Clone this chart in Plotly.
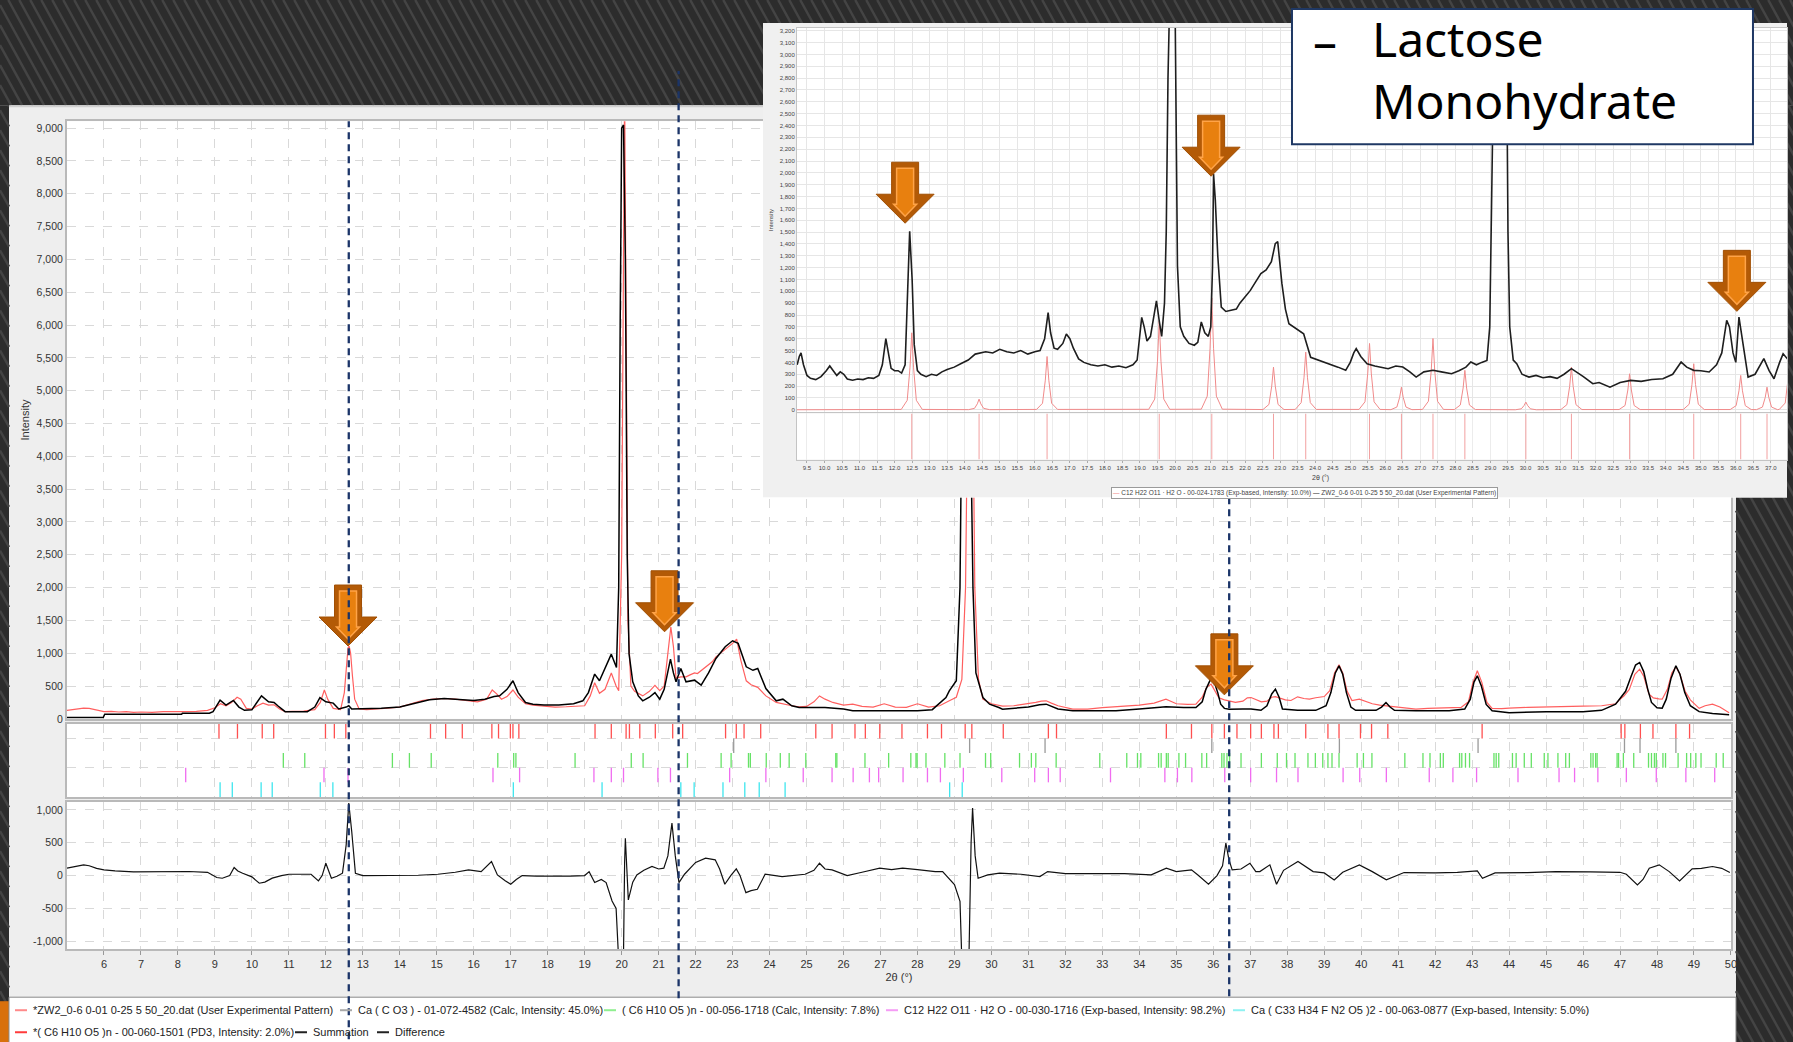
import plotly.graph_objects as go

W, H = 1793, 1042
# the photographed page comes out a few pixels larger than the figure, so layout
# positions are laid out against that effective page size
EW, EH = 1799.0, 1049.3
FONT = "Liberation Sans, Arial, sans-serif"


def px(x):
    return x * EW / (W * W)


def py(y):
    return 1 - y * EH / (H * H)


# ---------------- main refinement: 2θ (deg) vs intensity ----------------
exp_x = [5.00, 5.15, 5.30, 5.45, 5.60, 5.75, 5.90, 6.00, 6.20, 6.40, 6.60, 6.80, 7.00, 7.30, 7.60,
         7.90, 8.20, 8.50, 8.80, 9.00, 9.15, 9.30, 9.45, 9.60, 9.70, 9.85, 10.00, 10.15, 10.30,
         10.45, 10.60, 10.75, 10.90, 11.10, 11.40, 11.70, 11.85, 11.96, 12.05, 12.20, 12.40, 12.50,
         12.55, 12.60, 12.63, 12.67, 12.72, 12.78, 12.90, 13.10, 13.40, 13.70, 14.00, 14.30, 14.60,
         14.90, 15.20, 15.50, 15.80, 16.10, 16.35, 16.50, 16.62, 16.75, 16.90, 17.06, 17.20, 17.40,
         17.60, 17.90, 18.20, 18.50, 18.80, 19.00, 19.15, 19.27, 19.40, 19.55, 19.72, 19.85, 19.92,
         20.00, 20.05, 20.08, 20.12, 20.17, 20.25, 20.35, 20.57, 20.75, 20.90, 21.03, 21.15, 21.25,
         21.33, 21.40, 21.47, 21.60, 21.74, 21.85, 21.97, 22.05, 22.15, 22.25, 22.35, 22.45, 22.55,
         22.65, 22.80, 22.90, 23.00, 23.11, 23.22, 23.37, 23.50, 23.68, 23.90, 24.18, 24.36, 24.60,
         24.80, 25.00, 25.20, 25.35, 25.50, 25.71, 26.00, 26.25, 26.50, 26.80, 27.10, 27.40, 27.70,
         28.00, 28.30, 28.60, 28.86, 29.05, 29.20, 29.30, 29.38, 29.42, 29.48, 29.55, 29.65, 29.77,
         30.00, 30.30, 30.60, 30.90, 31.20, 31.35, 31.48, 31.62, 31.80, 32.20, 32.60, 33.00, 33.37,
         33.70, 34.00, 34.40, 34.58, 34.72, 34.88, 35.00, 35.30, 35.53, 35.70, 35.82, 35.94, 36.05,
         36.15, 36.30, 36.43, 36.60, 36.80, 36.92, 37.02, 37.15, 37.30, 37.45, 37.58, 37.68, 37.80,
         37.95, 38.10, 38.28, 38.45, 38.60, 38.77, 39.00, 39.15, 39.28, 39.40, 39.50, 39.62, 39.75,
         39.95, 40.10, 40.30, 40.50, 40.67, 40.90, 41.20, 41.48, 41.80, 42.10, 42.38, 42.70, 42.90,
         43.02, 43.14, 43.26, 43.40, 43.54, 43.80, 44.00, 44.50, 45.00, 45.50, 46.00, 46.50, 46.75,
         46.88, 47.00, 47.11, 47.25, 47.40, 47.53, 47.64, 47.78, 47.90, 48.05, 48.14, 48.28, 48.40,
         48.51, 48.62, 48.76, 48.90, 49.14, 49.30, 49.50, 49.70, 49.95]
exp_y = [130, 140, 150, 165, 160, 140, 125, 110, 115, 105, 110, 100, 105, 100, 110,
         105, 110, 115, 130, 170, 230, 200, 250, 330, 300, 160, 150, 200, 240,
         210, 215, 150, 110, 115, 120, 140, 250, 440, 300, 160, 140, 400,
         800, 1080, 1110, 1000, 650, 300, 150, 140, 150, 170, 180, 230, 280,
         300, 310, 300, 280, 260, 300, 440, 380, 300, 340, 440, 330, 230,
         210, 190, 180, 185, 190, 200, 350, 550, 390, 450, 700, 500, 430,
         2500, 7000, 9600, 6000, 1500, 500, 420, 350, 420, 510, 430, 500, 1000,
         1400, 1100, 620, 640, 640, 670, 700, 690, 735, 780, 830, 870, 945,
         990, 1050, 1100, 1150, 1215, 900, 580, 520, 480, 350, 250, 225, 200,
         185, 190, 260, 350, 300, 250, 210, 225, 190, 180, 230, 180, 175,
         230, 180, 200, 275, 330, 600, 2000, 6000, 8000, 6000, 2000, 600, 300,
         230, 195, 200, 220, 250, 270, 275, 240, 200, 150, 150, 170, 185,
         200, 210, 240, 280, 300, 260, 230, 220, 225, 330, 480, 530, 430,
         320, 290, 275, 250, 270, 320, 325, 300, 260, 270, 330, 340, 320,
         290, 280, 336, 310, 300, 322, 340, 430, 700, 824, 700, 420, 280,
         300, 270, 230, 210, 200, 180, 165, 150, 160, 165, 160, 175, 260,
         550, 732, 560, 250, 160, 155, 165, 175, 185, 190, 195, 200, 215,
         230, 300, 351, 450, 680, 757, 650, 380, 320, 305, 300, 450, 700,
         793, 680, 420, 290, 160, 200, 224, 180, 92]

sum_x = [5.00, 5.98, 6.02, 8.10, 8.12, 8.85, 8.95, 9.14, 9.30, 9.50, 9.65, 9.80, 10.00, 10.26,
         10.45, 10.60, 10.70, 10.90, 11.50, 11.70, 11.84, 12.00, 12.20, 12.35, 12.55, 12.62, 12.70,
         13.00, 13.50, 14.00, 14.40, 14.80, 15.20, 15.60, 16.00, 16.30, 16.55, 16.70, 16.90, 17.06,
         17.20, 17.40, 17.60, 17.90, 18.30, 18.70, 18.95, 19.10, 19.27, 19.40, 19.60, 19.72, 19.86,
         19.92, 19.96, 20.00, 20.05, 20.10, 20.15, 20.20, 20.30, 20.45, 20.57, 20.75, 20.90, 21.03,
         21.15, 21.25, 21.32, 21.40, 21.47, 21.60, 21.74, 21.97, 22.15, 22.35, 22.55, 22.80, 23.00,
         23.15, 23.37, 23.55, 23.68, 23.90, 24.18, 24.36, 24.60, 24.80, 25.50, 26.00, 26.25, 27.00,
         28.00, 28.40, 28.77, 28.86, 29.05, 29.15, 29.22, 29.30, 29.40, 29.50, 29.58, 29.77, 29.95,
         30.20, 30.30, 31.00, 31.30, 31.48, 31.62, 31.80, 32.20, 33.00, 33.37, 34.00, 34.72, 35.20,
         35.53, 35.70, 35.80, 35.94, 36.05, 36.12, 36.20, 36.30, 36.43, 36.80, 37.02, 37.29, 37.45,
         37.58, 37.68, 37.78, 37.87, 38.28, 38.77, 39.05, 39.18, 39.30, 39.40, 39.50, 39.60, 39.72,
         39.85, 40.40, 40.55, 40.67, 40.78, 40.90, 41.48, 42.38, 42.80, 42.95, 43.05, 43.14, 43.25,
         43.38, 43.54, 44.00, 45.00, 46.00, 46.50, 46.88, 47.05, 47.15, 47.30, 47.42, 47.53, 47.64,
         47.75, 47.85, 48.00, 48.14, 48.25, 48.38, 48.51, 48.62, 48.75, 48.90, 49.14, 49.50, 49.95]
sum_y = [20, 20, 70, 70, 85, 85, 110, 285, 210, 280, 180, 130, 140, 350,
         260, 250, 200, 110, 110, 180, 325, 260, 240, 150, 180, 200, 150,
         150, 160, 180, 230, 290, 310, 300, 280, 300, 340, 351, 450, 580,
         400, 250, 224, 210, 210, 230, 275, 400, 682, 580, 850, 986, 783,
         2000, 6000, 9000, 9050, 7000, 2500, 990, 564, 350, 275, 330, 400, 300,
         450, 750, 910, 700, 564, 767, 564, 590, 513, 700, 920, 1100, 1190,
         1150, 793, 740, 767, 461, 275, 300, 200, 173, 173, 150, 122, 122,
         122, 140, 325, 427, 580, 2000, 6000, 7500, 6000, 2000, 700, 325, 224,
         173, 148, 180, 215, 224, 190, 150, 122, 122, 122, 150, 183, 175,
         173, 260, 450, 620, 520, 400, 224, 160, 148, 150, 150, 130, 200,
         380, 453, 330, 150, 130, 130, 200, 400, 700, 808, 680, 400, 180,
         130, 130, 180, 249, 180, 130, 122, 122, 150, 300, 560, 656, 500,
         220, 122, 92, 110, 110, 130, 224, 340, 420, 650, 820, 859, 720,
         450, 250, 170, 163, 300, 620, 808, 680, 400, 200, 110, 80, 61]

diff_x = [5.00, 5.25, 5.45, 5.60, 5.80, 6.00, 6.30, 6.80, 7.30, 7.80, 8.30, 8.80, 9.05, 9.20, 9.40,
          9.52, 9.62, 9.75, 10.00, 10.20, 10.35, 10.55, 10.80, 11.00, 11.30, 11.60, 11.80, 11.90,
          12.00, 12.08, 12.15, 12.30, 12.45, 12.55, 12.62, 12.70, 12.80, 13.00, 13.50, 14.00, 14.50,
          15.03, 15.50, 15.86, 16.20, 16.48, 16.64, 16.85, 17.00, 17.15, 17.31, 17.70, 18.14, 18.60,
          19.00, 19.12, 19.27, 19.45, 19.58, 19.74, 19.85, 19.92, 20.00, 20.05, 20.08, 20.10, 20.14,
          20.18, 20.30, 20.41, 20.60, 20.82, 21.00, 21.14, 21.25, 21.36, 21.45, 21.55, 21.70, 21.86,
          22.00, 22.27, 22.53, 22.65, 22.79, 22.95, 23.10, 23.20, 23.36, 23.50, 23.67, 23.88, 24.34,
          24.96, 25.20, 25.35, 25.50, 25.69, 26.10, 26.50, 26.98, 27.30, 27.60, 28.00, 28.48, 28.68,
          29.00, 29.15, 29.20, 29.39, 29.45, 29.49, 29.56, 29.64, 29.90, 30.22, 30.80, 31.31, 31.52,
          32.00, 32.95, 33.60, 34.32, 34.73, 35.00, 35.41, 35.60, 35.87, 36.10, 36.25, 36.34, 36.42,
          36.51, 36.75, 36.99, 37.15, 37.26, 37.53, 37.71, 37.90, 38.29, 38.70, 39.00, 39.27, 39.50,
          39.95, 40.30, 40.68, 41.16, 42.00, 42.60, 43.14, 43.28, 43.62, 44.50, 45.26, 46.20, 47.00,
          47.17, 47.47, 47.62, 47.79, 48.06, 48.33, 48.61, 48.80, 48.95, 49.20, 49.50, 49.75, 49.97]
diff_y = [112, 140, 163, 150, 110, 87, 70, 55, 60, 55, 62, 50, -30, -41, 0,
          122, 70, 36, -20, -117, -100, -40, 0, 20, 25, 20, -82, 0,
          188, 60, -41, -10, 36, 468, 1104, 671, 36, 0, 0, 0, 5,
          20, 50, 87, 60, 214, 10, -80, -132, -60, 0, -10, -15, -10,
          0, 60, -107, -60, -107, -387, -500, -1300, -1300, -1200, 200, 570, 100,
          -372, -100, 10, 80, 138, 100, 112, 300, 799, 300, -107, 20, 112,
          200, 266, 240, 100, -132, 0, 102, 0, -260, -230, -209, 20, -15,
          20, 80, 188, 100, 87, 0, 50, 112, 90, 112, 90, 60, 60,
          -138, -392, -1300, -1300, 500, 1028, 300, -41, 10, 36, 20, -15, 60,
          30, 36, 30, 10, 112, 60, 87, 0, -132, 0, 150, 494, 250,
          87, 100, 188, 60, 60, 163, -132, 80, 214, 60, 40, -66, 50,
          163, 60, -66, 46, 40, 50, 71, -41, 40, 45, 60, 55, 50,
          20, -143, -60, 112, 163, 60, -82, 20, 102, 110, 138, 110, 46]

# ---------------- reference phase line positions (2θ) ----------------
pd3_pos = [9.11, 9.61, 10.28, 10.59, 11.99, 12.23, 12.54, 14.83, 15.24, 15.69, 16.49, 16.67,
           16.99, 17.06, 17.22, 19.28, 19.72, 20.12, 20.21, 20.49, 20.91, 21.38, 21.65, 22.81,
           23.10, 23.31, 23.76, 25.25, 25.69, 26.31, 26.59, 26.98, 27.58, 28.27, 28.65, 29.29,
           29.47, 30.32, 31.54, 31.76, 34.73, 35.41, 35.96, 36.30, 36.64, 37.01, 37.30, 37.64,
           37.76, 38.50, 39.10, 39.40, 39.98, 40.28, 40.72, 43.27, 47.03, 47.13, 47.55, 47.89,
           48.51, 48.88]
calcite_pos = [23.03, 29.41, 31.45, 35.96, 39.41, 43.16, 47.12, 47.54, 48.51]
cellulose_pos = [10.85, 11.43, 13.80, 14.26, 14.85, 16.65, 17.08, 17.14, 18.74, 20.26, 20.58,
                 21.78, 22.69, 22.96, 23.43, 23.48, 23.91, 24.29, 24.53, 24.98, 25.79, 25.82,
                 26.58, 27.22, 27.82, 27.96, 27.99, 28.23, 28.74, 29.15, 29.84, 29.98, 30.76,
                 31.08, 31.20, 31.75, 32.93, 33.66, 33.95, 34.04, 34.52, 34.59, 34.73, 34.78,
                 35.07, 35.25, 35.69, 35.82, 36.23, 36.29, 36.37, 36.44, 36.75, 37.30, 37.73,
                 37.98, 38.21, 38.56, 38.76, 38.96, 39.10, 39.21, 39.40, 39.89, 40.06, 40.29,
                 41.18, 41.67, 41.86, 42.14, 42.22, 42.66, 42.72, 42.82, 42.93, 43.59, 43.65,
                 43.72, 44.09, 44.19, 44.41, 44.60, 44.95, 45.05, 45.32, 45.53, 45.63, 46.21,
                 46.27, 46.34, 46.38, 46.92, 46.96, 47.09, 47.37, 47.77, 47.85, 47.93, 47.98,
                 48.16, 48.23, 48.57, 48.80, 48.91, 49.05, 49.19, 49.60, 49.79]
lactose_pos = [8.21, 11.95, 12.60, 16.52, 17.24, 19.25, 19.72, 20.05, 20.98, 21.32, 22.92,
               23.90, 24.91, 25.69, 26.26, 26.70, 26.95, 27.61, 28.27, 28.62, 29.24, 30.28,
               31.17, 31.54, 31.86, 33.22, 34.69, 35.03, 35.42, 36.31, 37.01, 37.71, 38.29,
               39.51, 39.96, 40.68, 41.84, 42.48, 43.12, 44.24, 45.35, 45.77, 46.40, 47.17,
               47.98, 48.78, 49.56]
atorva_pos = [9.14, 9.47, 10.25, 10.55, 11.85, 12.19, 17.07, 19.47, 21.60, 21.96, 22.74, 23.33,
              23.72, 24.42, 28.87, 29.21]

# ---------------- inset: lactose monohydrate reference (00-024-1783) ----------------
ins_exp_x = [9.22, 9.28, 9.33, 9.40, 9.50, 9.60, 9.75, 9.90, 10.05, 10.15, 10.25, 10.35, 10.45,
             10.55, 10.65, 10.80, 10.95, 11.10, 11.25, 11.40, 11.55, 11.65, 11.75, 11.82, 11.90,
             12.00, 12.10, 12.20, 12.30, 12.36, 12.43, 12.50, 12.56, 12.65, 12.75, 12.90, 13.05,
             13.20, 13.35, 13.50, 13.70, 13.90, 14.10, 14.30, 14.45, 14.60, 14.80, 15.00, 15.20,
             15.40, 15.60, 15.80, 16.00, 16.15, 16.28, 16.38, 16.45, 16.55, 16.65, 16.80, 16.90,
             17.00, 17.10, 17.25, 17.40, 17.60, 17.80, 18.00, 18.20, 18.40, 18.60, 18.80, 18.92,
             19.00, 19.05, 19.12, 19.20, 19.30, 19.40, 19.47, 19.55, 19.62, 19.70, 19.75, 19.80,
             19.85, 20.00, 20.03, 20.07, 20.15, 20.25, 20.40, 20.55, 20.65, 20.75, 20.85, 20.95,
             21.02, 21.07, 21.10, 21.15, 21.22, 21.27, 21.32, 21.45, 21.60, 21.75, 21.85, 22.00,
             22.15, 22.30, 22.45, 22.60, 22.75, 22.86, 22.93, 23.05, 23.15, 23.25, 23.45, 23.67,
             23.87, 24.10, 24.40, 24.65, 24.87, 25.00, 25.10, 25.17, 25.30, 25.48, 25.70, 26.08,
             26.30, 26.50, 26.70, 26.88, 27.10, 27.36, 27.60, 27.89, 28.10, 28.30, 28.44, 28.60,
             28.75, 28.90, 28.98, 29.05, 29.12, 29.45, 29.50, 29.55, 29.65, 29.75, 29.90, 30.10,
             30.30, 30.50, 30.70, 30.90, 31.10, 31.31, 31.45, 31.65, 31.92, 32.10, 32.41, 32.70,
             33.00, 33.30, 33.60, 33.92, 34.20, 34.44, 34.60, 34.80, 35.00, 35.24, 35.45, 35.60,
             35.74, 35.82, 35.92, 36.00, 36.09, 36.18, 36.35, 36.55, 36.70, 36.80, 36.95, 37.09,
             37.25, 37.35, 37.50, 37.63]
ins_exp_y = [380, 450, 480, 380, 290, 265, 255, 280, 330, 370, 330, 290, 320,
             300, 260, 250, 260, 255, 270, 265, 290, 380, 600, 480, 350,
             330, 330, 310, 380, 900, 1507, 1100, 550, 330, 300, 280, 300,
             290, 320, 340, 360, 390, 420, 470, 480, 490, 480, 510, 490,
             480, 500, 470, 490, 500, 600, 820, 650, 520, 510, 560, 640,
             600, 520, 430, 400, 380, 370, 380, 360, 370, 355, 380, 420,
             650, 780, 700, 580, 620, 800, 920, 750, 620, 900, 1500, 2800,
             3500, 3500, 2200, 1215, 700, 620, 560, 545, 570, 741, 650, 620,
             700, 1200, 1990, 1770, 1300, 1065, 867, 830, 839, 850, 900, 950,
             1008, 1080, 1150, 1180, 1250, 1403, 1420, 1065, 850, 727, 690, 642,
             443, 420, 390, 360, 333, 400, 480, 516, 450, 389, 370, 347,
             370, 361, 320, 276, 320, 333, 320, 304, 330, 360, 403, 380,
             400, 417, 700, 2000, 3500, 3500, 1500, 700, 420, 389, 300, 276,
             290, 270, 280, 265, 300, 347, 320, 280, 220, 230, 191, 230,
             248, 240, 255, 262, 300, 403, 360, 333, 330, 319, 380, 480,
             755, 700, 480, 400, 783, 600, 276, 300, 380, 432, 330, 262,
             400, 473, 420, 360]

ins_ref_x = [9.215, 12.19, 12.36, 12.44, 12.49, 12.54, 12.62, 12.79, 14.11, 14.28, 14.36, 14.41,
             14.46, 14.54, 14.71, 16.05, 16.22, 16.30, 16.35, 16.40, 16.48, 16.65, 19.25, 19.42,
             19.50, 19.55, 19.60, 19.68, 19.85, 20.75, 20.92, 21.00, 21.05, 21.10, 21.18, 21.35,
             22.51, 22.68, 22.76, 22.81, 22.86, 22.94, 23.11, 23.43, 23.60, 23.68, 23.73, 23.78,
             23.86, 24.03, 25.25, 25.42, 25.50, 25.55, 25.60, 25.68, 25.85, 26.16, 26.33, 26.41,
             26.46, 26.51, 26.59, 26.76, 27.06, 27.23, 27.31, 27.36, 27.41, 27.49, 27.66, 27.97,
             28.14, 28.22, 28.27, 28.32, 28.40, 28.57, 29.71, 29.88, 29.96, 30.01, 30.06, 30.14,
             30.31, 31.01, 31.18, 31.26, 31.31, 31.36, 31.44, 31.61, 32.67, 32.84, 32.92, 32.97,
             33.02, 33.10, 33.27, 34.50, 34.67, 34.75, 34.80, 34.85, 34.93, 35.10, 35.84, 36.01,
             36.09, 36.14, 36.19, 36.27, 36.44, 36.59, 36.76, 36.84, 36.89, 36.94, 37.02, 37.19,
             37.24, 37.41, 37.49, 37.54, 37.59, 37.63]
ins_ref_y = [0, 3, 80, 360, 650, 360, 80, 3, 1, 12, 50, 90,
             50, 12, 1, 3, 55, 250, 450, 250, 55, 3, 4, 90,
             410, 750, 410, 90, 4, 5, 115, 520, 945, 520, 115, 5,
             2, 45, 200, 360, 200, 45, 2, 3, 60, 270, 487, 270,
             60, 3, 3, 67, 310, 560, 310, 67, 3, 1, 23, 105,
             191, 105, 23, 1, 3, 72, 330, 602, 330, 72, 3, 2,
             40, 183, 333, 183, 40, 2, 0, 8, 36, 65, 36, 8,
             0, 2, 43, 198, 360, 198, 43, 2, 2, 36, 167, 304,
             167, 36, 2, 2, 47, 214, 389, 214, 47, 2, 2, 35,
             160, 290, 160, 35, 2, 1, 23, 105, 191, 105, 23, 1,
             3, 57, 260, 473, 260, 160]
ins_stick_pos = [12.49, 14.41, 16.35, 19.55, 21.05, 22.81, 23.73, 25.55, 26.46, 27.36, 28.27,
                 30.01, 31.31, 32.97, 34.80, 36.14, 36.89, 37.54]

# highlighted reflections (2θ, intensity at the arrow tip)
main_marks = [(12.60, 1110), (21.16, 1327), (36.30, 366)]
inset_marks = [(12.30, 1575), (21.03, 1972), (36.03, 831)]
guide_lines = [12.62, 21.54, 36.43]

x_tickvals = list(range(6, 51))

fig = go.Figure()

# main panel: experimental and summation
fig.add_trace(go.Scatter(x=exp_x, y=exp_y, mode="lines", xaxis="x3", yaxis="y3",
                         line=dict(color="#ff5f5f", width=1.2), showlegend=False))
fig.add_trace(go.Scatter(x=sum_x, y=sum_y, mode="lines", xaxis="x3", yaxis="y3",
                         line=dict(color="#000000", width=1.5), showlegend=False))


def sticks(pos, lo, hi):
    xs, ys = [], []
    for p in pos:
        xs += [p, p, None]
        ys += [lo, hi, None]
    return xs, ys


phase_rows = [
    (pd3_pos, 4, 5, "#ff5050"),
    (calcite_pos, 3, 4, "#9a9a9a"),
    (cellulose_pos, 2, 3, "#66e266"),
    (lactose_pos, 1, 2, "#f06cf0"),
    (atorva_pos, 0, 1, "#3ee6ee"),
]
for pos, lo, hi, col in phase_rows:
    sx, sy = sticks(pos, lo, hi)
    fig.add_trace(go.Scatter(x=sx, y=sy, mode="lines", xaxis="x2", yaxis="y2",
                             line=dict(color=col, width=1.3), showlegend=False))

fig.add_trace(go.Scatter(x=diff_x, y=diff_y, mode="lines", xaxis="x", yaxis="y",
                         line=dict(color="#111111", width=1.2), showlegend=False))

# inset
fig.add_trace(go.Scatter(x=ins_ref_x, y=ins_ref_y, mode="lines", xaxis="x5", yaxis="y5",
                         line=dict(color="#f08a8a", width=1), showlegend=False))
fig.add_trace(go.Scatter(x=ins_exp_x, y=ins_exp_y, mode="lines", xaxis="x5", yaxis="y5",
                         line=dict(color="#1e1e1e", width=1.6), showlegend=False))
isx, isy = sticks(ins_stick_pos, 0, 1)
fig.add_trace(go.Scatter(x=isx, y=isy, mode="lines", xaxis="x6", yaxis="y6",
                         line=dict(color="#f2a0a0", width=1), showlegend=False))

grid = dict(showgrid=True, gridcolor="#d9d9d9", griddash="dash", gridwidth=1)
frame = dict(showline=True, mirror=True, linecolor="#b9b9b9", linewidth=2, zeroline=False)
xdom = [px(67), px(1731)]
tickfont = dict(family=FONT, size=11, color="#333333")

# inset x extent: left edge at 9.215°, 35.05 px per degree, up to the page edge
ins_right_px = min(W, W * W / EW)
ins_xmax = 9.5 + (ins_right_px - 807) / 35.05

fig.update_layout(
    width=W, height=H, margin=dict(l=0, r=0, t=0, b=0),
    paper_bgcolor="#eeeeee", plot_bgcolor="#ffffff", showlegend=False,
    font=dict(family=FONT, color="#333333"),
    xaxis=dict(domain=xdom, range=[5, 50], anchor="y", tickvals=x_tickvals, ticks="outside",
               ticklen=4, tickcolor="#999999", tickfont=tickfont,
               title=dict(text="2θ (°)", standoff=4,
                          font=dict(family=FONT, size=11, color="#333333")),
               **grid, **frame),
    yaxis=dict(domain=[py(948), py(801)], range=[-1122, 1122], anchor="x",
               tickvals=[-1000, -500, 0, 500, 1000],
               ticktext=["-1,000", "-500", "0", "500", "1,000"],
               tickfont=dict(family=FONT, size=10.5, color="#333333"), **grid, **frame),
    xaxis2=dict(domain=xdom, range=[5, 50], anchor="y2", tickvals=x_tickvals,
                showticklabels=False, **grid, **frame),
    yaxis2=dict(domain=[py(796), py(723)], range=[0, 5], anchor="x2", tickvals=[2, 4],
                showticklabels=False, **grid, **frame),
    xaxis3=dict(domain=xdom, range=[5, 50], anchor="y3", tickvals=x_tickvals,
                showticklabels=False, **grid, **frame),
    yaxis3=dict(domain=[py(718), py(121)], range=[0, 9107], anchor="x3", tick0=0, dtick=500,
                tickformat=",", tickfont=dict(family=FONT, size=10.5, color="#333333"),
                **grid, **frame),
    # inset backdrop
    xaxis4=dict(domain=[px(763), 1], range=[0, 1], anchor="y4", visible=False),
    yaxis4=dict(domain=[py(497), py(23)], range=[0, 1], anchor="x4", visible=False),
    # inset pattern
    xaxis5=dict(domain=[px(797), 1], range=[9.215, ins_xmax], anchor="y5", tick0=9.5, dtick=0.5,
                showticklabels=False, showgrid=True, gridcolor="#e6e6e6", zeroline=False,
                showline=True, mirror=True, linecolor="#c4c4c4", linewidth=1),
    yaxis5=dict(domain=[py(412), py(28)], range=[-23, 3223], anchor="x5", tick0=0, dtick=100,
                tickformat=",", tickfont=dict(family=FONT, size=6, color="#444444"),
                showgrid=True, gridcolor="#e6e6e6", zeroline=False,
                showline=True, mirror=True, linecolor="#c4c4c4", linewidth=1),
    xaxis6=dict(domain=[px(797), 1], range=[9.215, ins_xmax], anchor="y6", tick0=9.5, dtick=0.5,
                tickformat=".1f", tickfont=dict(family=FONT, size=6, color="#444444"),
                ticks="outside", ticklen=2, tickcolor="#aaaaaa",
                showgrid=True, gridcolor="#ececec", zeroline=False,
                showline=True, mirror=True, linecolor="#c4c4c4", linewidth=1),
    yaxis6=dict(domain=[py(459), py(413)], range=[0, 1], anchor="x6", showticklabels=False,
                showgrid=False, zeroline=False,
                showline=True, mirror=True, linecolor="#c4c4c4", linewidth=1),
)


# ---------- slide background (dark diagonal stripes) ----------
def stripe_path(x0, y0, x1, y1, period=11.0, k=0.55):
    segs = []
    c = x0 - k * y1 - period
    while c < x1:
        ys = max(y0, (x0 - c) / k)
        ye = min(y1, (x1 - c) / k)
        if ye > ys:
            segs.append("M%.5f,%.5fL%.5f,%.5f" % (px(c + k * ys), py(ys), px(c + k * ye), py(ye)))
        c += period
    return "".join(segs)


shapes = []
dark_regions = [(0, 0, W + 8, 105), (0, 105, 9, H + 8), (1736, 105, W + 8, H + 8)]
for (a, b, c, d) in dark_regions:
    shapes.append(dict(type="rect", xref="paper", yref="paper", layer="below",
                       x0=px(a), x1=px(c), y0=py(d), y1=py(b),
                       fillcolor="#2c2c2c", line=dict(width=0)))
    shapes.append(dict(type="path", xref="paper", yref="paper", layer="below",
                       path=stripe_path(a, b, c, d), line=dict(color="#444444", width=2.5)))
# orange corner of the slide
shapes.append(dict(type="rect", xref="paper", yref="paper", layer="below",
                   x0=0, x1=px(9), y0=py(H + 8), y1=py(1000),
                   fillcolor="#d8700c", line=dict(width=0)))
# legend box
shapes.append(dict(type="rect", xref="paper", yref="paper", layer="below",
                   x0=px(9), x1=px(1736), y0=py(H + 8), y1=py(996),
                   fillcolor="#ffffff", line=dict(color="#8a8a8a", width=1)))
# panel top edge
shapes.append(dict(type="line", xref="paper", yref="paper", layer="below",
                   x0=px(9), x1=px(1736), y0=py(106), y1=py(106),
                   line=dict(color="#cfcfcf", width=2)))
# inset backdrop, drawn inside the inset's own subplot group
shapes.append(dict(type="rect", xref="x4", yref="y4", layer="below",
                   x0=0, x1=1, y0=0, y1=1, fillcolor="#f0f0f0", line=dict(width=0)))

# ---------- highlight arrows ----------
ARROW_OUTER = "M0,0L-29,29L-13.5,29L-13.5,61L13.5,61L13.5,29L29,29Z"
ARROW_INNER = "M0,7L-11.5,19L-8.5,19L-8.5,55L8.5,55L8.5,19L11.5,19Z"


def arrow(xr, yr, xv, yv):
    base = dict(type="path", xref=xr, yref=yr, xsizemode="pixel", ysizemode="pixel",
                xanchor=xv, yanchor=yv, layer="above")
    return [dict(base, path=ARROW_OUTER, fillcolor="#b35a06", line=dict(color="#a04f04", width=1)),
            dict(base, path=ARROW_INNER, fillcolor="#e8800f", line=dict(color="#ffa347", width=1.5))]


for xv, yv in main_marks:
    shapes += arrow("x3", "y3", xv, yv)
for xv, yv in inset_marks:
    shapes += arrow("x5", "y5", xv, yv)

# ---------- guide lines through the marked reflections ----------
guide_spans = [(121, H + 8), (71, 997), (497, 995)]
for xv, (ya, yb) in zip(guide_lines, guide_spans):
    shapes.append(dict(type="line", xref="x3", yref="paper", layer="above",
                       x0=xv, x1=xv, y0=py(yb), y1=py(ya),
                       line=dict(color="#1b3468", width=2.3, dash="7px,5px")))

# ---------- title box ----------
shapes.append(dict(type="rect", xref="paper", yref="paper", layer="above",
                   x0=px(1292), x1=px(1753), y0=py(144), y1=py(9),
                   fillcolor="#ffffff", line=dict(color="#1f3864", width=2)))

# ---------- legend ----------
legend_row1 = [
    (15, "#ff8a8a", "*ZW2_0-6 0-01 0-25 5 50_20.dat (User Experimental Pattern)"),
    (340, "#a8a8a8", "Ca ( C O3 ) - 01-072-4582 (Calc, Intensity: 45.0%)"),
    (604, "#8fef8f", "( C6 H10 O5 )n - 00-056-1718 (Calc, Intensity: 7.8%)"),
    (886, "#f59cf5", "C12 H22 O11 · H2 O - 00-030-1716 (Exp-based, Intensity: 98.2%)"),
    (1233, "#8ff2f2", "Ca ( C33 H34 F N2 O5 )2 - 00-063-0877 (Exp-based, Intensity: 5.0%)"),
]
legend_row2 = [
    (15, "#ff3b3b", "*( C6 H10 O5 )n - 00-060-1501 (PD3, Intensity: 2.0%)"),
    (295, "#222222", "Summation"),
    (377, "#222222", "Difference"),
]
annotations = []
for row_y, items in ((1009, legend_row1), (1031, legend_row2)):
    for x0, col, text in items:
        shapes.append(dict(type="line", xref="paper", yref="paper", layer="above",
                           x0=px(x0), x1=px(x0 + 12), y0=py(row_y), y1=py(row_y),
                           line=dict(color=col, width=2)))
        annotations.append(dict(xref="paper", yref="paper", x=px(x0 + 16), y=py(row_y),
                                xanchor="left", yanchor="middle", showarrow=False, text=text,
                                font=dict(family=FONT, size=11, color="#222222")))


def label(x, y, text, size, angle=0, color="#333333", **extra):
    return dict(xref="paper", yref="paper", x=px(x), y=py(y), xanchor="center",
                yanchor="middle", showarrow=False, text=text, textangle=angle,
                font=dict(family=FONT, size=size, color=color), **extra)


annotations.append(label(25, 419, "Intensity", 11, angle=-90))
annotations.append(label(1321, 477, "2θ (°)", 7, color="#444444"))
annotations.append(label(771, 220, "Intensity", 6, angle=-90, color="#444444"))
annotations.append(label(
    1305, 492,
    '<span style="color:#f08a8a">—</span> C12 H22 O11 · H2 O - 00-024-1783 (Exp-based, '
    'Intensity: 10.0%) <span style="color:#222">—</span> ZW2_0-6 0-01 0-25 5 50_20.dat '
    '(User Experimental Pattern)', 6.5, color="#444444",
    bgcolor="#ffffff", bordercolor="#9a9a9a", borderwidth=1, borderpad=1))

# title text
TFONT = "Noto Sans, Open Sans, DejaVu Sans, sans-serif"
annotations.append(dict(xref="paper", yref="paper", x=px(1311), y=py(40.5), xanchor="left",
                        yanchor="middle", showarrow=False, text="–",
                        font=dict(family=TFONT, size=48, color="#000000")))
annotations.append(dict(xref="paper", yref="paper", x=px(1370), y=py(69.5), xanchor="left",
                        yanchor="middle", align="left", showarrow=False,
                        text="Lactose<br>Monohydrate",
                        font=dict(family=TFONT, size=48, color="#000000")))

fig.update_layout(shapes=shapes, annotations=annotations)
fig.write_html("out.html")
